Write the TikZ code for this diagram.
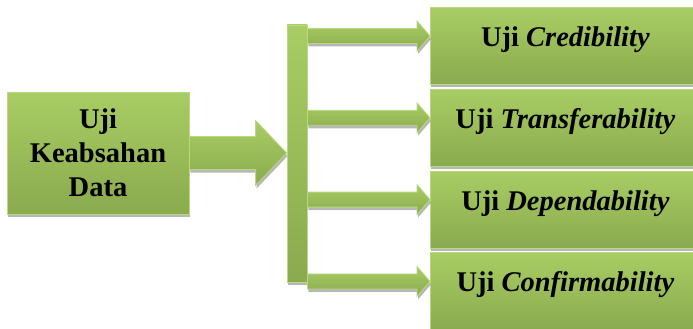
\documentclass[tikz,border=0pt]{standalone}
\usepackage{fontspec}
\setmainfont{Liberation Serif}
\usetikzlibrary{positioning,calc,shadows}

\definecolor{boxtop}{HTML}{A8CD64}
\definecolor{boxbot}{HTML}{8AAA4E}
\definecolor{boxedge}{HTML}{B8D882}
\definecolor{shadowgray}{HTML}{A4A4A4}

\tikzset{
  greenfill/.style={top color=boxtop, bottom color=boxbot, draw=boxedge, line width=0.8pt,
    drop shadow={shadow xshift=1pt, shadow yshift=-3pt, fill=shadowgray, opacity=0.8}},
  testbox/.style={greenfill, rectangle, minimum width=270pt, inner sep=0pt,
    text height=39pt, text depth=38pt, font=\fontsize{28.5}{34}\selectfont\bfseries},
}

% block arrow: start, tip, shaft half width, head half width, head length
\newcommand{\blockarrow}[5]{%
  \path[greenfill] ($(#1)+(0,#3)$) -- ($(#2)+(-#5,#3)$) -- ($(#2)+(-#5,#4)$) -- (#2)
    -- ($(#2)+(-#5,-#4)$) -- ($(#2)+(-#5,-#3)$) -- ($(#1)+(0,-#3)$) -- cycle;}

\begin{document}
\begin{tikzpicture}[x=1pt,y=-1pt]
\useasboundingbox (0,0) rectangle (693,329);

\node[greenfill, minimum width=182pt, minimum height=122pt, inner sep=0pt, align=center,
  font=\fontsize{28.5}{34}\selectfont\bfseries] (src) at (98,153) {Uji\\Keabsahan\\Data};

\node[greenfill, minimum width=20pt, minimum height=257pt, inner sep=0pt] (bar) at (297,153.5) {};

\node[testbox, anchor=north west] (t1) at (430,7) {Uji \textit{Credibility}};
\node[testbox, below=4pt of t1] (t2) {Uji \textit{Transferability}};
\node[testbox, below=4pt of t2] (t3) {Uji \textit{Dependability}};
\node[testbox, below=4pt of t3] (t4) {Uji \textit{Confirmability}};

\coordinate (in) at (bar.west |- src.east);
\blockarrow{src.east}{in}{16.5}{32.5}{31}

\foreach \i in {1,...,4} {
  \coordinate (s\i) at ($(bar.east |- t\i.north)+(0,29)$);
  \coordinate (e\i) at (t\i.west |- s\i);
  \blockarrow{s\i}{e\i}{7.5}{15}{13}
}

\end{tikzpicture}
\end{document}
